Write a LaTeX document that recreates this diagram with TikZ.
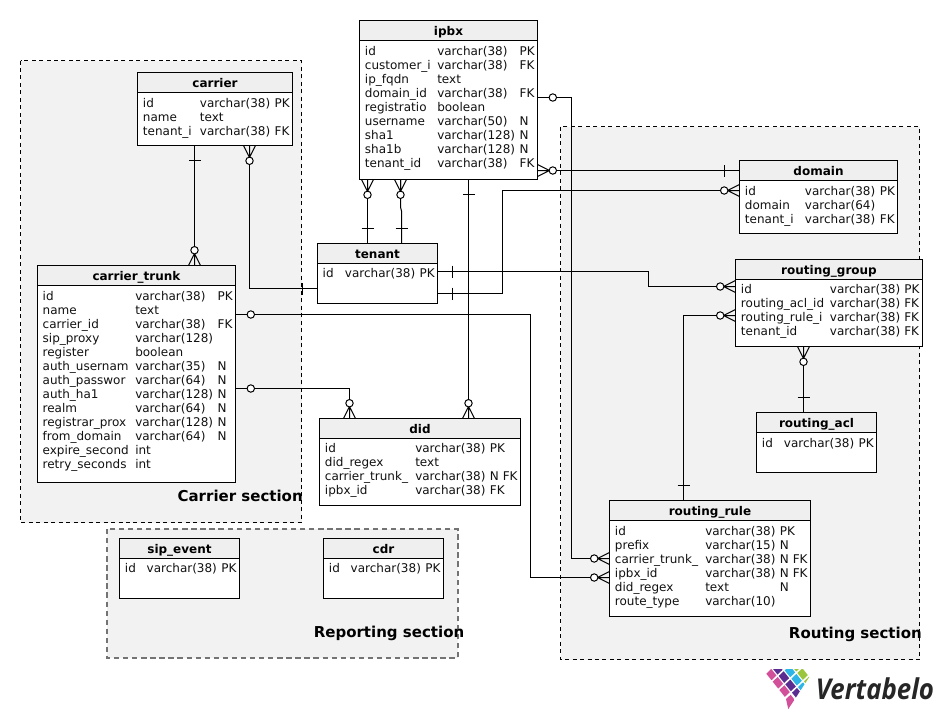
\documentclass[tikz,border=0pt]{standalone}
\usepackage{fontspec}
\setmainfont{DejaVu Sans}
\newfontfamily\logofont{Open Sans}
\definecolor{secfill}{HTML}{F2F2F2}
\definecolor{headfill}{HTML}{EFEFEF}
\definecolor{inkdark}{HTML}{111111}
\definecolor{logopink}{HTML}{D2509A}
\definecolor{logopurple}{HTML}{5C2D91}
\definecolor{logoblue}{HTML}{2DB5E8}
\definecolor{logogreen}{HTML}{9BC53D}
\newcommand{\tbl}[6]{%
  \node[tablebox, minimum width={(#5-#3)*0.75pt}, minimum height={(#6-#4)*0.75pt}] (#1) at ({(#3+#5)/2},{(#4+#6)/2}) {};
  \draw[tablehead] (#3,#4) rectangle (#5,#4+20);
  \node[tabletitle] (#1-title) at ({(#3+#5)/2},#4+14.5) {#2};
}
\newcommand{\tcol}[5]{%
  \foreach \t [count=\i from 0] in {#5} {
    \node[cell] (#1-#2-\i) at (#3-0.3,{#4+4.3+14*\i}) {\t};
  }
}
\newcommand{\logocell}[3]{%
  \fill[#3] ({18+#1*20+#2*18},{28+#1*25-#2*17}) -- ++(16.5,20.6) -- ++(15,-14.2) -- ++(-16.5,-20.6) -- cycle;
}
\tikzset{
  secbox/.style={fill=secfill, draw=black, line width=0.75pt, dash pattern=on 3pt off 2.6pt},
  secboxgray/.style={fill=secfill, draw=black!55, line width=1.1pt, dash pattern=on 4pt off 2.8pt},
  seclabel/.style={font=\bfseries\fontsize{11.25}{13}\selectfont, anchor=base east, inner sep=0pt},
  tablebox/.style={draw=black, fill=white, line width=0.75pt, inner sep=0pt},
  tablehead/.style={draw=black, fill=headfill, line width=0.75pt},
  tabletitle/.style={font=\bfseries\fontsize{9}{11}\selectfont, anchor=base, inner sep=0pt},
  cell/.style={font=\fontsize{9}{11}\selectfont, text=inkdark, anchor=base west, inner sep=0pt},
  conn/.style={draw=black, line width=0.75pt},
  crow/.pic={
    \draw[conn] (0,-6) -- (12,0) -- (0,6) (0,0) -- (12,0);
    \draw[conn, fill=white] (15.3,0) circle[radius=3.7];
  },
  zeroend/.pic={
    \draw[conn, fill=white] (15.3,0) circle[radius=3.7];
  },
  onebar/.pic={
    \draw[conn] (15,-6) -- (15,6);
  },
}
\begin{document}
\begin{tikzpicture}[x=0.75pt,y=-0.75pt]
\useasboundingbox (0,0) rectangle (942,719);
% sections
\draw[secbox] (20.5,60.5) rectangle (301.5,522.5);
\draw[secboxgray] (107,529) rectangle (458,658);
\draw[secbox] (560.5,126.5) rectangle (919.5,659.5);

% tables
\tbl{ipbx}{ipbx}{359.5}{20.5}{537.5}{179.5}
\tcol{ipbx}{a}{365}{50.7}{id,customer\_i,ip\_fqdn,domain\_id,registratio,username,sha1,sha1b,tenant\_id}
\tcol{ipbx}{b}{437.3}{50.7}{varchar(38),varchar(38),text,varchar(38),boolean,varchar(50),varchar(128),varchar(128),varchar(38)}
\tcol{ipbx}{c}{519.7}{50.7}{PK,FK,,FK,,N,N,N,FK}

\tbl{carrier}{carrier}{137.5}{72.5}{292.5}{145.5}
\tcol{carrier}{a}{143}{102.7}{id,name,tenant\_i}
\tcol{carrier}{b}{200}{102.7}{varchar(38),text,varchar(38)}
\tcol{carrier}{c}{274.7}{102.7}{PK,,FK}

\tbl{carrier_trunk}{carrier\_trunk}{37.5}{265.5}{235.5}{482.5}
\tcol{carrier_trunk}{a}{42.7}{295.7}{id,name,carrier\_id,sip\_proxy,register,auth\_usernam,auth\_passwor,auth\_ha1,realm,registrar\_prox,from\_domain,expire\_second,retry\_seconds}
\tcol{carrier_trunk}{b}{135.3}{295.7}{varchar(38),text,varchar(38),varchar(128),boolean,varchar(35),varchar(64),varchar(128),varchar(64),varchar(128),varchar(64),int,int}
\tcol{carrier_trunk}{c}{217.7}{295.7}{PK,,FK,,,N,N,N,N,N,N,,}

\tbl{tenant}{tenant}{317.5}{243.5}{437.5}{303.5}
\tcol{tenant}{a}{322.7}{273}{id}
\tcol{tenant}{b}{345}{273}{varchar(38)}
\tcol{tenant}{c}{419.7}{273}{PK}

\tbl{did}{did}{319.5}{418.5}{520.5}{505.5}
\tcol{did}{a}{325}{448.3}{id,did\_regex,carrier\_trunk\_,ipbx\_id}
\tcol{did}{b}{415.3}{448.3}{varchar(38),text,varchar(38),varchar(38)}
\tcol{did}{c}{490}{448.3}{PK,,N FK,FK}

\tbl{domain}{domain}{739.5}{160.5}{897.5}{233.5}
\tcol{domain}{a}{745}{190.7}{id,domain,tenant\_i}
\tcol{domain}{b}{805}{190.7}{varchar(38),varchar(64),varchar(38)}
\tcol{domain}{c}{880}{190.7}{PK,,FK}

\tbl{routing_group}{routing\_group}{735.5}{259.5}{922.5}{346.5}
\tcol{routing_group}{a}{741}{289.3}{id,routing\_acl\_id,routing\_rule\_i,tenant\_id}
\tcol{routing_group}{b}{830}{289.3}{varchar(38),varchar(38),varchar(38),varchar(38)}
\tcol{routing_group}{c}{904.3}{289.3}{PK,FK,FK,FK}

\tbl{routing_acl}{routing\_acl}{756.5}{412.5}{876.5}{472.5}
\tcol{routing_acl}{a}{762}{442.7}{id}
\tcol{routing_acl}{b}{784}{442.7}{varchar(38)}
\tcol{routing_acl}{c}{858.7}{442.7}{PK}

\tbl{routing_rule}{routing\_rule}{609.5}{500.5}{810.5}{616.5}
\tcol{routing_rule}{a}{615}{530.7}{id,prefix,carrier\_trunk\_,ipbx\_id,did\_regex,route\_type}
\tcol{routing_rule}{b}{705.3}{530.7}{varchar(38),varchar(15),varchar(38),varchar(38),text,varchar(10)}
\tcol{routing_rule}{c}{780}{530.7}{PK,N,N FK,N FK,N,}

\tbl{sip_event}{sip\_event}{119.5}{538.5}{239.5}{598.5}
\tcol{sip_event}{a}{125}{568.3}{id}
\tcol{sip_event}{b}{146.7}{568.3}{varchar(38)}
\tcol{sip_event}{c}{221.3}{568.3}{PK}

\tbl{cdr}{cdr}{323.5}{538.5}{443.5}{598.5}
\tcol{cdr}{a}{329}{568.3}{id}
\tcol{cdr}{b}{350.7}{568.3}{varchar(38)}
\tcol{cdr}{c}{425.3}{568.3}{PK}

% connectors
\draw[conn] (carrier.south -| 194.5,0) -- (carrier_trunk.north -| 194.5,0);
\draw[conn] (carrier.south -| 249.5,0) |- (tenant.west |- 0,288.5);
\draw[conn] (ipbx.south -| 367.5,0) -- (tenant.north -| 367.5,0);
\draw[conn] (ipbx.south -| 400.5,0) -- (400.5,207) -- (401.5,211) -- (tenant.north -| 401.5,0);
\draw[conn] (ipbx.south -| 468.5,0) -- (did.north -| 468.5,0);
\draw[conn] (ipbx.east |- 0,97.5) -- (571.5,97.5) |- (routing_rule.west |- 0,558.5);
\draw[conn] (ipbx.east |- 0,170.5) -- (domain.west |- 0,170.5);
\draw[conn] (tenant.east |- 0,293.5) -- (502.5,293.5) |- (domain.west |- 0,190.5);
\draw[conn] (tenant.east |- 0,271.5) -- (648.5,271.5) |- (routing_group.west |- 0,286.5);
\draw[conn] (routing_rule.north -| 683.5,0) |- (routing_group.west |- 0,315.5);
\draw[conn] (routing_acl.north -| 803.5,0) -- (routing_group.south -| 803.5,0);
\draw[conn] (carrier_trunk.east |- 0,314.5) -- (530.5,314.5) |- (routing_rule.west |- 0,577.5);
\draw[conn] (carrier_trunk.east |- 0,388.5) -| (did.north -| 349.5,0);

% ends of the connectors
\pic[rotate=-90] at (194.5,145.5) {onebar};
\pic[rotate=90] at (194.5,265.5) {crow};
\pic[rotate=-90] at (249.5,145.5) {crow};
\pic[rotate=180] at (317.5,288.5) {onebar};
\pic[rotate=-90] at (367.5,179.5) {crow};
\pic[rotate=90] at (367.5,243.5) {onebar};
\pic[rotate=-90] at (400.5,179.5) {crow};
\pic[rotate=90] at (401.5,243.5) {onebar};
\pic[rotate=-90] at (468.5,179.5) {onebar};
\pic[rotate=90] at (468.5,418.5) {crow};
\pic at (537.5,97.5) {zeroend};
\pic[rotate=180] at (609.5,558.5) {crow};
\pic at (537.5,170.5) {crow};
\pic[rotate=180] at (739.5,170.5) {onebar};
\pic at (437.5,293.5) {onebar};
\pic[rotate=180] at (739.5,190.5) {crow};
\pic at (437.5,271.5) {onebar};
\pic[rotate=180] at (735.5,286.5) {crow};
\pic[rotate=90] at (683.5,500.5) {onebar};
\pic[rotate=180] at (735.5,315.5) {crow};
\pic[rotate=90] at (803.5,412.5) {onebar};
\pic[rotate=-90] at (803.5,346.5) {crow};
\pic at (235.5,314.5) {zeroend};
\pic[rotate=180] at (609.5,577.5) {crow};
\pic at (235.5,388.5) {zeroend};
\pic[rotate=90] at (349.5,418.5) {crow};

% section labels
\node[seclabel] (carrierlabel) at (303,501.5) {Carrier section};
\node[seclabel] (reportinglabel) at (464.5,637) {Reporting section};
\node[seclabel] (routinglabel) at (922,638.5) {Routing section};

% logo
\begin{scope}[shift={(760,664)},x=0.25pt,y=-0.25pt]
\clip (18,30) -- (33,15) -- (148,15) -- (155,28) -- (85,135) -- cycle;
\logocell{0}{0}{logopink}
\logocell{1}{0}{logopink}
\logocell{2}{0}{logopink}
\fill[logopink] (78,105) -- (92,92) -- (105,109) -- (85,136) -- cycle;
\logocell{0}{1}{logopurple}
\logocell{1}{1}{logopurple}
\logocell{2}{1}{logopurple}
\logocell{3}{1}{logopurple}
\logocell{1}{2}{logoblue}
\logocell{2}{2}{logoblue}
\logocell{3}{2}{logoblue}
\logocell{1}{3}{logogreen}
\logocell{2}{3}{logogreen}
\logocell{3}{3}{logogreen}
\end{scope}
\node[font=\logofont\bfseries\itshape\fontsize{21.5}{24}\selectfont, text=black!85, anchor=base west, inner sep=0pt, xscale=0.9, transform shape] (logotext) at (815.5,699.5) {Vertabelo};
\end{tikzpicture}
\end{document}
